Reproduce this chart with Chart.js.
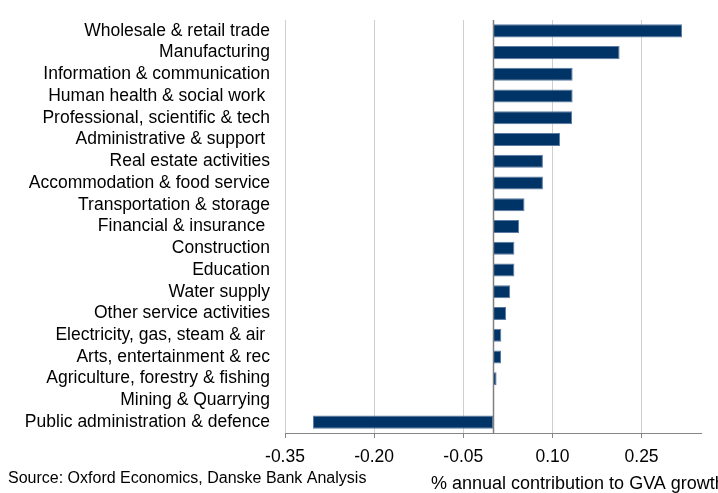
<!DOCTYPE html>
<html>
<head>
<meta charset="utf-8">
<script src="https://cdn.jsdelivr.net/npm/chart.js@4/dist/chart.umd.min.js"></script>
<style>
  html, body { margin:0; padding:0; background:#fff; }
  #chart { display:block; }
</style>
</head>
<body>
<canvas id="chart" width="718" height="493"></canvas>
<script>
/* GVA contribution by sector — horizontal bars */
const sectors = [
  'Wholesale & retail trade', 'Manufacturing', 'Information & communication',
  'Human health & social work ', 'Professional, scientific & tech', 'Administrative & support ',
  'Real estate activities', 'Accommodation & food service', 'Transportation & storage',
  'Financial & insurance ', 'Construction', 'Education', 'Water supply',
  'Other service activities', 'Electricity, gas, steam & air ', 'Arts, entertainment & rec',
  'Agriculture, forestry & fishing', 'Mining & Quarrying', 'Public administration & defence'
];
const contribution = [
  0.318, 0.213, 0.134, 0.134, 0.133, 0.113, 0.084, 0.084, 0.053, 0.044,
  0.036, 0.036, 0.029, 0.022, 0.014, 0.0135, 0.006, 0.0005, -0.303
];
const xTicks = [-0.35, -0.20, -0.05, 0.10, 0.25];
const xMin = -0.35, xMax = 0.35;
const sourceText = 'Source: Oxford Economics, Danske Bank Analysis';
const axisTitle = '% annual contribution to GVA growth';

const FONT = '"Liberation Sans", Arial, sans-serif';

// zero line + footer texts
const extras = {
  id: 'extras',
  afterDatasetsDraw(chart){
    const {ctx, chartArea:a, scales:{x}} = chart;
    const x0 = Math.round(x.getPixelForValue(0)) + 0.5;
    ctx.save();
    ctx.strokeStyle = '#7f7f7f';
    ctx.lineWidth = 1.5;
    ctx.beginPath(); ctx.moveTo(x0, a.top); ctx.lineTo(x0, a.bottom); ctx.stroke();
    ctx.restore();
  },
  afterDraw(chart){
    const ctx = chart.ctx;
    ctx.save();
    ctx.fillStyle = '#000';
    ctx.textBaseline = 'middle';
    ctx.textAlign = 'left';
    ctx.font = '16px ' + FONT;
    ctx.fillText(sourceText, 8, 479);
    ctx.font = '18px ' + FONT;
    ctx.fillText(axisTitle, 431, 484);
    ctx.restore();
  }
};

new Chart(document.getElementById('chart'), {
  type: 'bar',
  data: {
    labels: sectors,
    datasets: [{
      data: contribution,
      backgroundColor: '#003366',
      borderColor: '#5b7ba3',
      borderWidth: 1,
      borderSkipped: false,
      categoryPercentage: 1,
      barPercentage: 0.6
    }]
  },
  options: {
    indexAxis: 'y',
    responsive: false,
    animation: false,
    layout: { padding: { top: 20, right: 17, left: 0, bottom: 0 } },
    plugins: { legend: { display: false }, tooltip: { enabled: false } },
    scales: {
      x: {
        min: xMin, max: xMax,
        afterBuildTicks: s => { s.ticks = xTicks.map(v => ({ value: v })); },
        afterFit: s => { s.height = 60; s.paddingLeft = 0; s.paddingRight = 0; },
        grid: { color: '#cfcfcf', lineWidth: 1, tickColor: '#868686', tickLength: 5 },
        border: { color: '#868686', width: 1 },
        ticks: {
          color: '#000', padding: 9,
          font: { family: FONT, size: 17.5 },
          callback: v => v.toFixed(2)
        }
      },
      y: {
        afterFit: s => { s.width = 285; s.paddingTop = 0; s.paddingBottom = 0; },
        grid: { display: false, drawTicks: false },
        border: { display: false },
        ticks: { color: '#000', padding: 15, font: { family: FONT, size: 17.5 }, autoSkip: false }
      }
    }
  },
  plugins: [extras]
});
</script>
</body>
</html>
